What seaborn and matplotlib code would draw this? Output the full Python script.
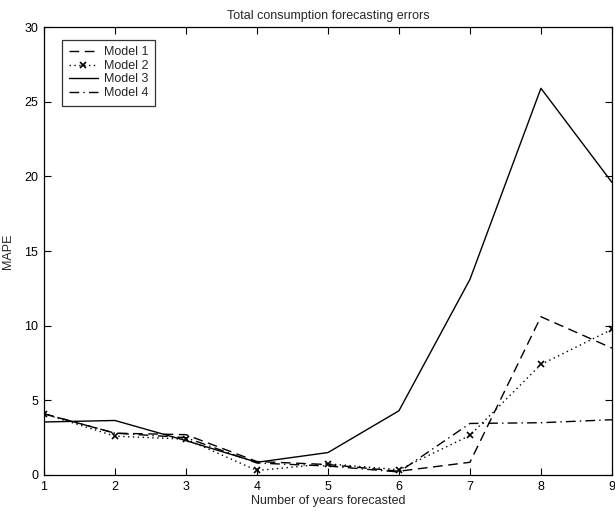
import matplotlib
matplotlib.use("Agg")
import matplotlib.pyplot as plt
import seaborn as sns
import pandas as pd

years = [1, 2, 3, 4, 5, 6, 7, 8, 9]
model1 = [4.1, 2.8, 2.7, 0.9, 0.7, 0.25, 0.85, 10.6, 8.5]
model2 = [4.1, 2.6, 2.4, 0.3, 0.75, 0.35, 2.65, 7.4, 9.75]
model3 = [3.55, 3.65, 2.3, 0.85, 1.5, 4.3, 13.1, 25.9, 19.6]
model4 = [4.1, 2.8, 2.5, 0.8, 0.6, 0.2, 3.45, 3.5, 3.7]
labels = ["Model 1", "Model 2", "Model 3", "Model 4"]

sns.set_theme(style="ticks")
plt.rcParams["font.family"] = ["Liberation Sans", "DejaVu Sans"]

frames = []
for name, vals in zip(labels, [model1, model2, model3, model4]):
    frames.append(pd.DataFrame({"years": years, "mape": vals, "model": name}))
df = pd.concat(frames, ignore_index=True)

styles = {
    "Model 1": dict(linestyle=(0, (7, 4)), marker=None),
    "Model 2": dict(linestyle=(0, (1, 2.5)), marker="x"),
    "Model 3": dict(linestyle="-", marker=None),
    "Model 4": dict(linestyle=(0, (7, 3, 1, 3)), marker=None),
}

fig = plt.figure(figsize=(6.15, 5.11), dpi=100)
ax = fig.add_axes([0.0715, 0.0705, 0.9235, 0.8765])

for name in labels:
    st = styles[name]
    sns.lineplot(data=df[df["model"] == name], x="years", y="mape", ax=ax,
                 color="black", linewidth=1.0, label=name,
                 linestyle=st["linestyle"], marker=st["marker"],
                 markersize=5, markeredgewidth=1.2, markeredgecolor="black")

ax.set_xlim(1, 9)
ax.set_ylim(0, 30)
ax.set_xticks(years)
ax.set_yticks([0, 5, 10, 15, 20, 25, 30])
ax.tick_params(direction="in", top=True, right=True, length=5, width=0.8,
               labelsize=9, colors="black", pad=4)
for sp in ax.spines.values():
    sp.set_linewidth(0.9)
    sp.set_color("black")

ax.set_title("Total consumption forecasting errors", fontsize=9, pad=6)
ax.set_xlabel("Number of years forecasted", fontsize=9, labelpad=2)
ax.set_ylabel("MAPE", fontsize=9)
ax.yaxis.set_label_coords(-0.052, 0.5)

leg = ax.legend(loc="upper left", bbox_to_anchor=(0.032, 0.972), fontsize=9,
                frameon=True, fancybox=False, edgecolor="black",
                handlelength=2.3, handletextpad=0.5, borderpad=0.55,
                labelspacing=0.12, borderaxespad=0, markerscale=0.9)
leg.get_frame().set_linewidth(0.9)

fig.savefig("out.png", dpi=100)
